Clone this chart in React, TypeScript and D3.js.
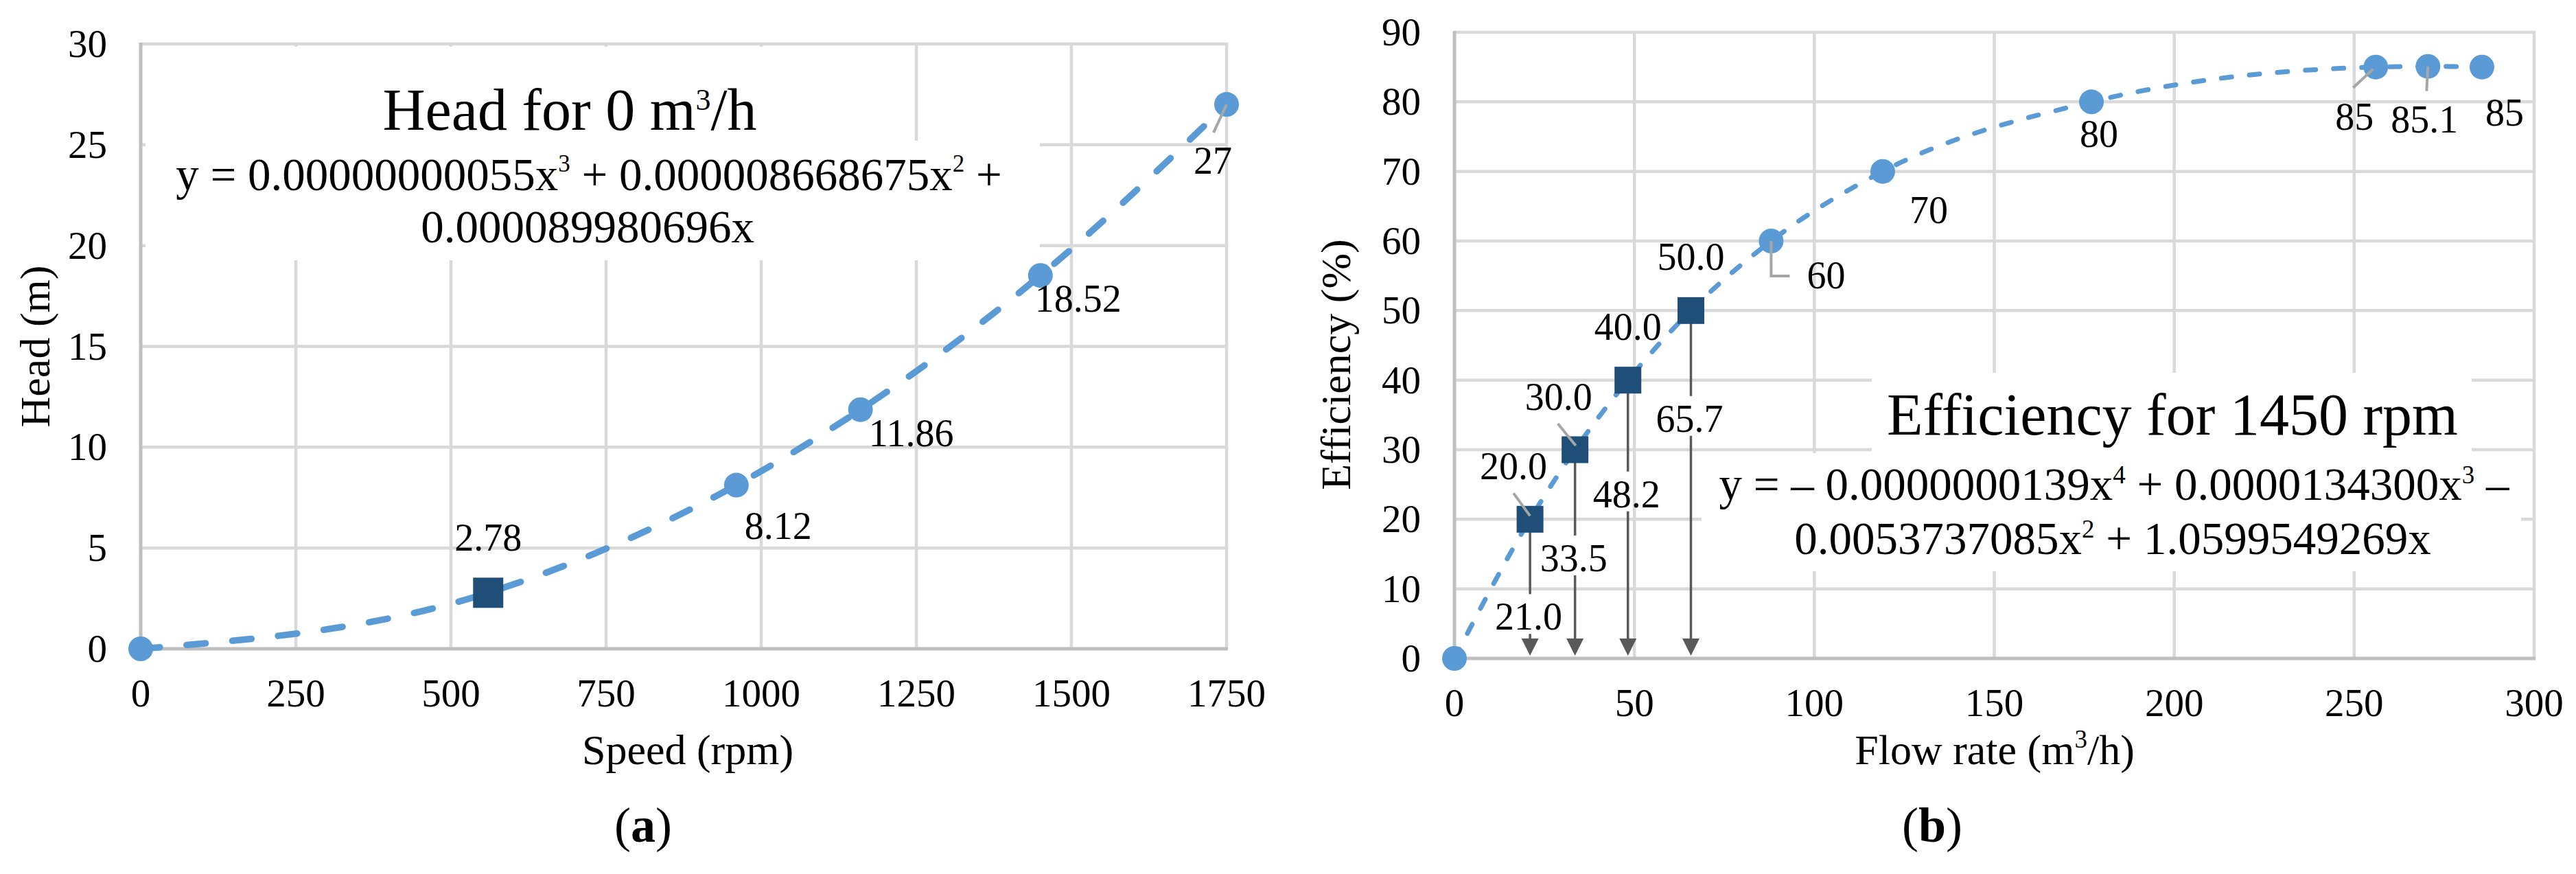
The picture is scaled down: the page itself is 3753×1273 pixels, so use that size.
import React from 'react';
import * as d3 from 'd3';

// ---------- data ----------
const headXTicks = [0, 250, 500, 750, 1000, 1250, 1500, 1750];
const headYTicks = [0, 5, 10, 15, 20, 25, 30];
const headCircleSpeed = [0, 960, 1160, 1450, 1750];
const headCircleValue = [0, 8.12, 11.86, 18.52, 27];
const headSquareSpeed = [560];
const headSquareValue = [2.78];

const effXTicks = [0, 50, 100, 150, 200, 250, 300];
const effYTicks = [0, 10, 20, 30, 40, 50, 60, 70, 80, 90];
const effCircleFlow = [0, 88, 119, 177, 256, 270.5, 285.5];
const effCircleValue = [0, 60, 70, 80, 85, 85.1, 85];
const effSquareFlow = [21, 33.5, 48.2, 65.7];
const effSquareValue = [20, 30, 40, 50];

// ---------- layout (label offsets in px) ----------
const headCircleLabelOff: (number[] | null)[] = [null, [61, 78], [74, 53], [55, 53], [-20, 101]];
const headCircleLeader: (number[][] | null)[] = [null, null, null, null, [[0, 0], [-19, 41]]];
const headSquareLabelOff = [[0, -61]];

const effCircleLabelOff: (number[] | null)[] = [null, [80, 69], [67, 75], [11, 66], [-31, 91], [-5, 96], [33, 85]];
const effCircleLeader: (number[][] | null)[] = [
  null,
  [[0, 0], [0, 51], [27, 51]],
  null,
  null,
  [[-4, 3], [-33, 30]],
  [[0, 0], [-2, 36]],
  null,
];
const effSquareLabelOff = [[-24, -58], [-24, -58], [0, -59], [0, -59]];
const effSquareLeader: (number[][] | null)[] = [[[-24, -38], [0, -5]], [[-25, -38], [1, -6]], null, null];
const effArrowLabelDy = [161, 177, 185, 176.5];

const A = { left: 205, right: 1787, top: 64, bottom: 945 };
const B = { left: 2119, right: 3692, top: 47, bottom: 959 };

const FONT = '"Liberation Serif", "Times New Roman", Times, serif';
const GRID = '#D9D9D9';
const AXIS = '#BFBFBF';
const SERIES = '#5B9BD5';
const SQUARE = '#1F4E79';
const LEADER = '#A6A6A6';
const ARROW = '#595959';

type Box = { left: number; right: number; top: number; bottom: number };

function Frame({ x, y, xt, yt, box }: { x: any; y: any; xt: number[]; yt: number[]; box: Box }) {
  return (
    <g>
      {yt.filter((v) => v !== 0).map((v) => (
        <line key={'h' + v} x1={box.left} x2={box.right + 2} y1={y(v)} y2={y(v)} stroke={GRID} strokeWidth={4.5} />
      ))}
      {xt.filter((v) => v !== 0).map((v) => (
        <line key={'v' + v} x1={x(v)} x2={x(v)} y1={box.top - 2} y2={box.bottom} stroke={GRID} strokeWidth={4.5} />
      ))}
      <line x1={box.left} x2={box.left} y1={box.top - 2} y2={box.bottom + 2} stroke={AXIS} strokeWidth={5} />
      <line x1={box.left - 2} x2={box.right + 2} y1={box.bottom} y2={box.bottom} stroke={AXIS} strokeWidth={5} />
      {yt.map((v) => (
        <text key={'yl' + v} x={box.left - 49} y={y(v) + 19} textAnchor="end" fontSize={57}>
          {v}
        </text>
      ))}
      {xt.map((v) => (
        <text key={'xl' + v} x={x(v)} y={box.bottom + 84} textAnchor="middle" fontSize={57}>
          {v}
        </text>
      ))}
    </g>
  );
}

function leaderPath(px: number, py: number, pts: number[][]) {
  return pts.map((p, i) => (i === 0 ? 'M' : 'L') + (px + p[0]) + ',' + (py + p[1])).join(' ');
}

export default function App() {
  // scales
  const xa = d3.scaleLinear().domain([0, 1750]).range([A.left, A.right]);
  const ya = d3.scaleLinear().domain([0, 30]).range([A.bottom, A.top]);
  const xb = d3.scaleLinear().domain([0, 300]).range([B.left, B.right]);
  const yb = d3.scaleLinear().domain([0, 90]).range([B.bottom, B.top]);

  const headPts: [number, number][] = [
    ...headCircleSpeed.map((s, i) => [s, headCircleValue[i]] as [number, number]),
    ...headSquareSpeed.map((s, i) => [s, headSquareValue[i]] as [number, number]),
  ].sort((a, b) => a[0] - b[0]);
  const effPts: [number, number][] = [
    ...effCircleFlow.map((s, i) => [s, effCircleValue[i]] as [number, number]),
    ...effSquareFlow.map((s, i) => [s, effSquareValue[i]] as [number, number]),
  ].sort((a, b) => a[0] - b[0]);

  const lineA = d3
    .line<[number, number]>()
    .x((d) => xa(d[0]))
    .y((d) => ya(d[1]))
    .curve(d3.curveMonotoneX)(headPts) as string;
  const lineB = d3
    .line<[number, number]>()
    .x((d) => xb(d[0]))
    .y((d) => yb(d[1]))
    .curve(d3.curveMonotoneX)(effPts) as string;

  const sqA = 44;
  const sqB = 39;
  const tipY = B.bottom - 4;

  return (
    <svg
      width={3753}
      height={1273}
      viewBox="0 0 3753 1273"
      style={{ position: 'absolute', left: 0, top: 0, background: '#fff' }}
      fontFamily={FONT}
      fill="#000"
    >
      <rect x={0} y={0} width={3753} height={1273} fill="#fff" />

      {/* ================= Panel (a) ================= */}
      <Frame x={xa} y={ya} xt={headXTicks} yt={headYTicks} box={A} />
      <rect x={212} y={68} width={1028} height={140} fill="#fff" />
      <rect x={212} y={205} width={1303} height={174} fill="#fff" />
      <text x={830} y={189} textAnchor="middle" fontSize={86}>
        Head for 0 m<tspan dy={-29} fontSize={44}>3</tspan>
        <tspan dy={29}>/h</tspan>
      </text>
      <text x={858} y={277} textAnchor="middle" fontSize={67}>
        y = 0.00000000055x<tspan dy={-27} fontSize={35}>3</tspan>
        <tspan dy={27}> + 0.000008668675x</tspan>
        <tspan dy={-27} fontSize={35}>2</tspan>
        <tspan dy={27}> +</tspan>
      </text>
      <text x={856} y={353} textAnchor="middle" fontSize={67}>
        0.000089980696x
      </text>

      <path d={lineA} fill="none" stroke={SERIES} strokeWidth={9.5} strokeDasharray="28 39" strokeLinecap="round" />
      {headCircleSpeed.map((s, i) => (
        <circle key={'ca' + i} cx={xa(s)} cy={ya(headCircleValue[i])} r={18} fill={SERIES} />
      ))}
      {headSquareSpeed.map((s, i) => (
        <rect
          key={'sa' + i}
          x={xa(s) - sqA / 2}
          y={ya(headSquareValue[i]) - sqA / 2}
          width={sqA}
          height={sqA}
          fill={SQUARE}
        />
      ))}
      {headCircleSpeed.map((s, i) => {
        const off = headCircleLabelOff[i];
        const ld = headCircleLeader[i];
        const px = xa(s);
        const py = ya(headCircleValue[i]);
        return (
          <g key={'la' + i}>
            {ld && <path d={leaderPath(px, py, ld)} fill="none" stroke={LEADER} strokeWidth={4} />}
            {off && (
              <text x={px + off[0]} y={py + off[1]} textAnchor="middle" fontSize={56}>
                {String(headCircleValue[i])}
              </text>
            )}
          </g>
        );
      })}
      {headSquareSpeed.map((s, i) => (
        <text
          key={'lsa' + i}
          x={xa(s) + headSquareLabelOff[i][0]}
          y={ya(headSquareValue[i]) + headSquareLabelOff[i][1]}
          textAnchor="middle"
          fontSize={56}
        >
          {String(headSquareValue[i])}
        </text>
      ))}

      <text x={1002} y={1113} textAnchor="middle" fontSize={62}>
        Speed (rpm)
      </text>
      <text transform={`translate(72, ${(A.top + A.bottom) / 2}) rotate(-90)`} textAnchor="middle" fontSize={62}>
        Head (m)
      </text>
      <text x={937} y={1226} textAnchor="middle" fontSize={72}>
        (<tspan fontWeight="bold">a</tspan>)
      </text>

      {/* ================= Panel (b) ================= */}
      <Frame x={xb} y={yb} xt={effXTicks} yt={effYTicks} box={B} />
      <rect x={2727} y={543} width={874} height={117} fill="#fff" />
      <rect x={2479} y={660} width={1194} height={172} fill="#fff" />
      <text x={3165} y={633} textAnchor="middle" fontSize={86}>
        Efficiency for 1450 rpm
      </text>
      <text x={3080} y={728} textAnchor="middle" fontSize={67}>
        y = – 0.0000000139x<tspan dy={-24} fontSize={37}>4</tspan>
        <tspan dy={24}> + 0.0000134300x</tspan>
        <tspan dy={-24} fontSize={37}>3</tspan>
        <tspan dy={24}> –</tspan>
      </text>
      <text x={3078} y={807} textAnchor="middle" fontSize={67}>
        0.0053737085x<tspan dy={-24} fontSize={37}>2</tspan>
        <tspan dy={24}> + 1.0599549269x</tspan>
      </text>

      {/* arrows from squares down to the flow axis */}
      {effSquareFlow.map((f, i) => {
        const px = xb(f);
        const py = yb(effSquareValue[i]);
        const base = py + effArrowLabelDy[i];
        return (
          <g key={'ar' + i}>
            <line x1={px} x2={px} y1={py} y2={base - 52} stroke={ARROW} strokeWidth={3.5} />
            <line x1={px} x2={px} y1={base + 6} y2={tipY - 22} stroke={ARROW} strokeWidth={3.5} />
            <path d={`M${px - 12.5},${tipY - 25} L${px + 12.5},${tipY - 25} L${px},${tipY} Z`} fill={ARROW} />
            <text x={px - 2} y={base} textAnchor="middle" fontSize={56}>
              {f.toFixed(1)}
            </text>
          </g>
        );
      })}

      <path d={lineB} fill="none" stroke={SERIES} strokeWidth={7} strokeDasharray="15 26" strokeLinecap="round" />
      {effCircleFlow.map((f, i) => (
        <circle key={'cb' + i} cx={xb(f)} cy={yb(effCircleValue[i])} r={18} fill={SERIES} />
      ))}
      {effSquareFlow.map((f, i) => (
        <rect
          key={'sb' + i}
          x={xb(f) - sqB / 2}
          y={yb(effSquareValue[i]) - sqB / 2}
          width={sqB}
          height={sqB}
          fill={SQUARE}
        />
      ))}
      {effCircleFlow.map((f, i) => {
        const off = effCircleLabelOff[i];
        const ld = effCircleLeader[i];
        const px = xb(f);
        const py = yb(effCircleValue[i]);
        return (
          <g key={'lb' + i}>
            {ld && <path d={leaderPath(px, py, ld)} fill="none" stroke={LEADER} strokeWidth={4} />}
            {off && (
              <text x={px + off[0]} y={py + off[1]} textAnchor="middle" fontSize={56}>
                {String(effCircleValue[i])}
              </text>
            )}
          </g>
        );
      })}
      {effSquareFlow.map((f, i) => {
        const px = xb(f);
        const py = yb(effSquareValue[i]);
        const ld = effSquareLeader[i];
        return (
          <g key={'lsb' + i}>
            {ld && <path d={leaderPath(px, py, ld)} fill="none" stroke={LEADER} strokeWidth={4} />}
            <text x={px + effSquareLabelOff[i][0]} y={py + effSquareLabelOff[i][1]} textAnchor="middle" fontSize={56}>
              {effSquareValue[i].toFixed(1)}
            </text>
          </g>
        );
      })}

      <text x={2906} y={1113} textAnchor="middle" fontSize={62}>
        Flow rate (m<tspan dy={-24} fontSize={37}>3</tspan>
        <tspan dy={24}>/h)</tspan>
      </text>
      <text transform={`translate(1967, 531) rotate(-90)`} textAnchor="middle" fontSize={62}>
        Efficiency (%)
      </text>
      <text x={2815} y={1226} textAnchor="middle" fontSize={72}>
        (<tspan fontWeight="bold">b</tspan>)
      </text>
    </svg>
  );
}
